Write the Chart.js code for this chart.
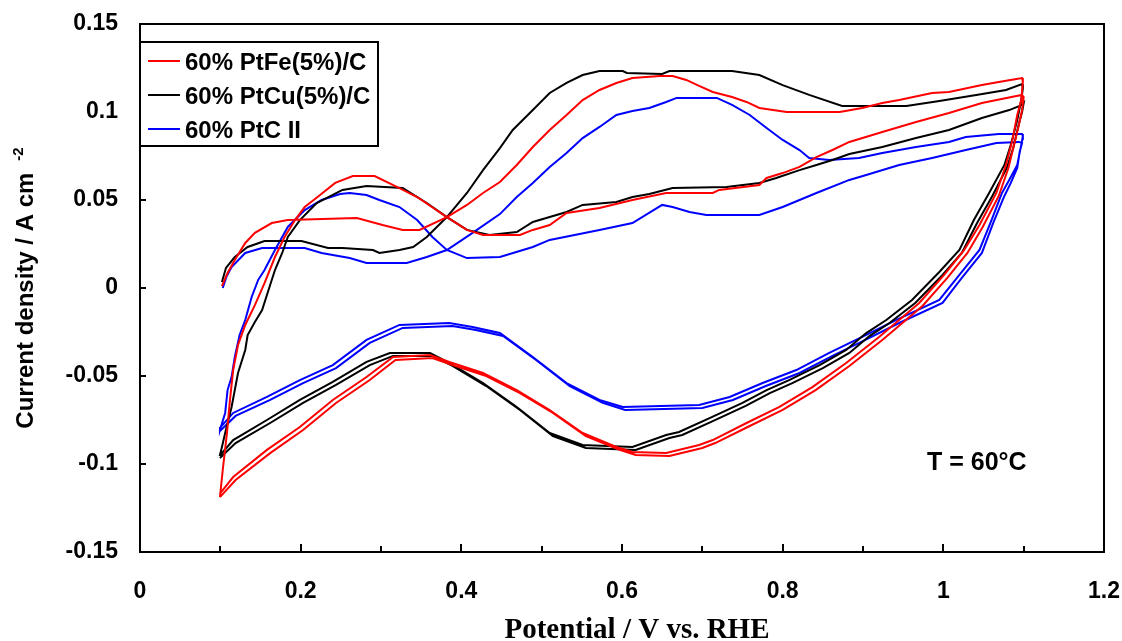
<!DOCTYPE html>
<html>
<head>
<meta charset="utf-8">
<script src="https://cdn.jsdelivr.net/npm/chart.js@4.4.1/dist/chart.umd.min.js"></script>
<style>
  html, body { margin: 0; padding: 0; background: #ffffff; }
  #wrap { width: 1122px; height: 641px; }
  canvas { display: block; }
</style>
</head>
<body>
<div id="wrap"><canvas id="cv" width="1122" height="641"></canvas></div>
<script>
// ---------------- data ----------------
const seriesLabels = ['60% PtFe(5%)/C', '60% PtCu(5%)/C', '60% PtC II'];
const seriesColors = ['#ff0000', '#000000', '#0000ff'];

const xTickValues = [0, 0.2, 0.4, 0.6, 0.8, 1, 1.2];
const xTickLabels = ['0', '0.2', '0.4', '0.6', '0.8', '1', '1.2'];
const xMinorValues = [0.1, 0.3, 0.5, 0.7, 0.9, 1.1];
const yTickValues = [-0.15, -0.1, -0.05, 0, 0.05, 0.1, 0.15];
const yTickLabels = ['-0.15', '-0.1', '-0.05', '0', '0.05', '0.1', '0.15'];

// 60% PtFe(5%)/C  (potential in V vs RHE, current density in A cm-2)
const feUp1E = [0.102,0.109,0.118,0.131,0.143,0.164,0.184,0.270,0.302,0.327,0.348,0.382,0.407,0.427,0.448,0.469,0.489,0.510,0.531,0.551,0.572,0.593,0.613,0.647,0.663,0.680,0.696,0.713,0.737,0.755,0.771,0.805,0.871,0.899,0.924,0.945,0.986,1.007,1.048,1.069,1.091,1.098];
const feUp1I = [0.0011,0.0085,0.0159,0.0256,0.0313,0.0369,0.0386,0.0398,0.0358,0.0330,0.0330,0.0403,0.0472,0.0540,0.0602,0.0699,0.0801,0.0898,0.0983,0.1068,0.1125,0.1165,0.1193,0.1205,0.1205,0.1182,0.1148,0.1114,0.1085,0.1057,0.1023,0.1000,0.1000,0.1023,0.1051,0.1068,0.1108,0.1114,0.1153,0.1170,0.1188,0.1193];
const feDown1E = [1.099,1.097,1.092,1.086,1.078,1.066,1.045,1.026,1.001,0.970,0.920,0.879,0.837,0.796,0.755,0.713,0.696,0.655,0.613,0.593,0.551,0.510,0.469,0.427,0.385,0.361,0.315,0.282,0.240,0.199,0.158,0.116,0.100];
const feDown1I = [0.1170,0.1068,0.0983,0.0841,0.0699,0.0540,0.0358,0.0216,0.0074,-0.0085,-0.0278,-0.0426,-0.0563,-0.0676,-0.0767,-0.0864,-0.0892,-0.0938,-0.0932,-0.0903,-0.0824,-0.0693,-0.0580,-0.0483,-0.0420,-0.0381,-0.0392,-0.0506,-0.0636,-0.0790,-0.0920,-0.1074,-0.1165];
const feUp2E = [0.0995,0.103,0.108,0.112,0.116,0.122,0.131,0.143,0.155,0.168,0.180,0.193,0.205,0.221,0.243,0.265,0.292,0.323,0.345,0.382,0.407,0.427,0.473,0.489,0.510,0.531,0.572,0.613,0.655,0.713,0.721,0.771,0.780,0.800,0.821,0.842,0.862,0.883,0.924,0.966,1.007,1.048,1.091,1.098];
const feUp2I = [-0.1188,-0.1034,-0.0835,-0.0636,-0.0466,-0.0324,-0.0210,-0.0097,0.0028,0.0176,0.0290,0.0386,0.0460,0.0517,0.0597,0.0636,0.0636,0.0568,0.0517,0.0403,0.0330,0.0301,0.0301,0.0330,0.0358,0.0426,0.0455,0.0500,0.0540,0.0540,0.0557,0.0585,0.0625,0.0653,0.0688,0.0744,0.0784,0.0830,0.0886,0.0943,0.0994,0.1051,0.1091,0.1097];
const feDown2E = [1.100,1.098,1.094,1.088,1.081,1.069,1.049,1.030,1.005,0.974,0.924,0.883,0.841,0.800,0.759,0.716,0.700,0.659,0.617,0.597,0.555,0.514,0.473,0.431,0.389,0.364,0.318,0.286,0.244,0.203,0.162,0.119,0.0995];
const feDown2I = [0.1085,0.1011,0.0926,0.0813,0.0682,0.0523,0.0347,0.0199,0.0057,-0.0102,-0.0295,-0.0443,-0.0580,-0.0693,-0.0784,-0.0881,-0.0909,-0.0955,-0.0949,-0.0920,-0.0841,-0.0710,-0.0597,-0.0500,-0.0438,-0.0398,-0.0409,-0.0523,-0.0653,-0.0807,-0.0938,-0.1091,-0.1188];

// 60% PtCu(5%)/C
const cuUp1E = [0.102,0.107,0.118,0.134,0.155,0.201,0.234,0.252,0.290,0.298,0.323,0.340,0.357,0.382,0.407,0.427,0.448,0.464,0.489,0.510,0.531,0.551,0.572,0.601,0.606,0.650,0.659,0.737,0.771,0.800,0.833,0.874,0.954,0.995,1.041,1.078,1.098];
const cuUp1I = [0.0034,0.0114,0.0176,0.0233,0.0267,0.0267,0.0227,0.0227,0.0216,0.0199,0.0216,0.0233,0.0290,0.0403,0.0540,0.0670,0.0795,0.0898,0.1011,0.1108,0.1165,0.1210,0.1233,0.1233,0.1222,0.1216,0.1233,0.1233,0.1210,0.1153,0.1097,0.1034,0.1034,0.1063,0.1097,0.1125,0.1159];
const cuDown1E = [1.099,1.097,1.092,1.084,1.076,1.057,1.038,1.020,0.995,0.961,0.929,0.904,0.879,0.846,0.808,0.780,0.750,0.709,0.671,0.655,0.613,0.551,0.510,0.469,0.427,0.385,0.361,0.311,0.282,0.240,0.199,0.158,0.116,0.100];
const cuDown1I = [0.1136,0.1068,0.0955,0.0813,0.0699,0.0540,0.0386,0.0216,0.0091,-0.0068,-0.0182,-0.0256,-0.0352,-0.0438,-0.0523,-0.0580,-0.0653,-0.0739,-0.0818,-0.0835,-0.0903,-0.0892,-0.0824,-0.0676,-0.0540,-0.0426,-0.0369,-0.0369,-0.0420,-0.0534,-0.0636,-0.0750,-0.0864,-0.0949];
const cuUp2E = [0.0995,0.102,0.106,0.114,0.122,0.131,0.134,0.143,0.152,0.162,0.168,0.177,0.184,0.199,0.220,0.252,0.282,0.327,0.357,0.382,0.407,0.435,0.469,0.489,0.510,0.531,0.551,0.593,0.613,0.634,0.663,0.730,0.771,0.792,0.821,0.842,0.862,0.883,0.924,0.966,1.007,1.048,1.082,1.098];
const cuUp2I = [-0.0949,-0.0903,-0.0824,-0.0676,-0.0483,-0.0352,-0.0267,-0.0193,-0.0125,0.0017,0.0102,0.0199,0.0290,0.0386,0.0483,0.0557,0.0580,0.0568,0.0483,0.0403,0.0330,0.0301,0.0318,0.0375,0.0403,0.0432,0.0472,0.0489,0.0517,0.0534,0.0568,0.0574,0.0597,0.0625,0.0670,0.0699,0.0727,0.0761,0.0801,0.0852,0.0898,0.0966,0.1011,0.1040];
const cuDown2E = [1.100,1.098,1.094,1.087,1.079,1.061,1.042,1.023,0.999,0.965,0.933,0.908,0.883,0.850,0.812,0.784,0.754,0.713,0.675,0.659,0.617,0.555,0.514,0.473,0.431,0.389,0.364,0.315,0.286,0.244,0.203,0.162,0.119,0.0995];
const cuDown2I = [0.1051,0.1000,0.0932,0.0795,0.0682,0.0523,0.0369,0.0199,0.0074,-0.0085,-0.0199,-0.0273,-0.0369,-0.0455,-0.0540,-0.0597,-0.0670,-0.0756,-0.0835,-0.0852,-0.0920,-0.0909,-0.0841,-0.0693,-0.0557,-0.0443,-0.0386,-0.0386,-0.0438,-0.0551,-0.0653,-0.0767,-0.0881,-0.0966];

// 60% PtC II
const cUp1E = [0.103,0.108,0.114,0.131,0.152,0.205,0.226,0.261,0.282,0.332,0.357,0.382,0.414,0.448,0.469,0.489,0.510,0.531,0.551,0.572,0.593,0.613,0.634,0.655,0.668,0.718,0.737,0.759,0.780,0.800,0.821,0.833,0.858,0.895,0.924,0.966,1.007,1.028,1.069,1.098];
const cUp1I = [0.0000,0.0068,0.0119,0.0199,0.0227,0.0227,0.0199,0.0170,0.0142,0.0142,0.0176,0.0216,0.0313,0.0420,0.0517,0.0597,0.0688,0.0767,0.0852,0.0915,0.0983,0.1006,0.1023,0.1057,0.1080,0.1080,0.1040,0.0983,0.0909,0.0841,0.0784,0.0739,0.0727,0.0739,0.0767,0.0801,0.0830,0.0858,0.0875,0.0875];
const cDown1E = [1.099,1.097,1.092,1.082,1.073,1.060,1.045,1.020,0.995,0.941,0.899,0.858,0.817,0.775,0.734,0.696,0.601,0.572,0.531,0.489,0.448,0.414,0.385,0.323,0.282,0.240,0.199,0.158,0.116,0.0995];
const cDown1I = [0.0864,0.0813,0.0699,0.0614,0.0540,0.0386,0.0216,0.0074,-0.0068,-0.0182,-0.0278,-0.0369,-0.0466,-0.0540,-0.0619,-0.0665,-0.0676,-0.0636,-0.0540,-0.0392,-0.0256,-0.0222,-0.0199,-0.0210,-0.0295,-0.0438,-0.0523,-0.0619,-0.0710,-0.0795];
const cUp2E = [0.0995,0.106,0.109,0.114,0.118,0.124,0.131,0.139,0.147,0.155,0.168,0.184,0.205,0.226,0.249,0.261,0.282,0.298,0.323,0.345,0.364,0.382,0.407,0.448,0.489,0.510,0.572,0.613,0.650,0.663,0.684,0.705,0.771,0.800,0.842,0.883,0.904,0.945,0.986,1.028,1.066,1.094];
const cUp2I = [-0.0807,-0.0710,-0.0580,-0.0506,-0.0392,-0.0267,-0.0182,-0.0051,0.0045,0.0102,0.0216,0.0347,0.0443,0.0500,0.0534,0.0540,0.0528,0.0500,0.0460,0.0386,0.0290,0.0216,0.0170,0.0176,0.0233,0.0273,0.0330,0.0369,0.0472,0.0460,0.0432,0.0415,0.0415,0.0460,0.0540,0.0614,0.0642,0.0699,0.0739,0.0784,0.0824,0.0830];
const cDown2E = [1.098,1.095,1.092,1.084,1.076,1.062,1.048,1.023,0.999,0.945,0.903,0.862,0.821,0.779,0.738,0.700,0.604,0.576,0.535,0.493,0.452,0.418,0.389,0.327,0.286,0.244,0.203,0.162,0.119,0.0995];
const cDown2I = [0.0824,0.0773,0.0682,0.0597,0.0523,0.0369,0.0199,0.0057,-0.0085,-0.0199,-0.0295,-0.0386,-0.0483,-0.0557,-0.0636,-0.0682,-0.0693,-0.0653,-0.0557,-0.0409,-0.0273,-0.0239,-0.0216,-0.0227,-0.0312,-0.0455,-0.0540,-0.0636,-0.0727,-0.0812];

const annotationText = 'T = 60°C';
const xTitle = 'Potential / V vs. RHE';
const yTitle = 'Current density / A cm';
const yTitleSup = '-2';

// ---------------- build ----------------
function loop(pairs) {
  const pts = [];
  pairs.forEach(([e, i]) => { for (let k = 0; k < e.length; k++) pts.push({x: e[k], y: i[k]}); });
  return pts;
}
const loops = [
  loop([[feUp1E, feUp1I], [feDown1E, feDown1I], [feUp2E, feUp2I], [feDown2E, feDown2I]]),
  loop([[cuUp1E, cuUp1I], [cuDown1E, cuDown1I], [cuUp2E, cuUp2I], [cuDown2E, cuDown2I]]),
  loop([[cUp1E, cUp1I], [cDown1E, cDown1I], [cUp2E, cUp2I], [cDown2E, cDown2I]])
];

const SANS = '"Liberation Sans", Arial, sans-serif';
const SERIF = '"Liberation Serif", "Times New Roman", serif';

const decor = {
  id: 'decor',
  afterDraw(chart) {
    const {ctx, chartArea: a, scales: {x, y}} = chart;
    ctx.save();
    ctx.strokeStyle = '#000';
    ctx.lineWidth = 2;
    ctx.strokeRect(a.left, a.top, a.right - a.left, a.bottom - a.top);
    ctx.beginPath();
    yTickValues.forEach(v => {
      const py = Math.round(y.getPixelForValue(v));
      ctx.moveTo(a.left, py); ctx.lineTo(a.left + 6, py);
    });
    xTickValues.forEach(v => {
      const px = Math.round(x.getPixelForValue(v));
      ctx.moveTo(px, a.bottom); ctx.lineTo(px, a.bottom - 8);
    });
    xMinorValues.forEach(v => {
      const px = Math.round(x.getPixelForValue(v));
      ctx.moveTo(px, a.bottom); ctx.lineTo(px, a.bottom - 6);
    });
    ctx.stroke();

    // legend box
    const lx = a.left, ly = 42, lw = 238, lh = 104;
    ctx.fillStyle = '#fff';
    ctx.fillRect(lx, ly, lw, lh);
    ctx.lineWidth = 2;
    ctx.strokeRect(lx, ly, lw, lh);
    const rows = [62, 96, 130];
    chart.data.datasets.forEach((ds, i) => {
      ctx.strokeStyle = ds.borderColor;
      ctx.lineWidth = 2;
      ctx.beginPath();
      ctx.moveTo(lx + 8, rows[i] - 1); ctx.lineTo(lx + 40, rows[i] - 1);
      ctx.stroke();
      ctx.fillStyle = '#000';
      ctx.font = 'bold 24px ' + SANS;
      ctx.textAlign = 'left';
      ctx.textBaseline = 'middle';
      ctx.fillText(ds.label, lx + 45, rows[i] + 1);
    });

    // annotation
    ctx.fillStyle = '#000';
    ctx.font = 'bold 25px ' + SANS;
    ctx.textAlign = 'left';
    ctx.textBaseline = 'alphabetic';
    ctx.fillText(annotationText, 927, 470);

    // x title
    ctx.font = 'bold 29px ' + SERIF;
    ctx.textAlign = 'center';
    ctx.fillText(xTitle, 637, 638);

    // y title with superscript
    ctx.font = 'bold 24px ' + SANS;
    const w = ctx.measureText(yTitle).width;
    ctx.font = 'bold 15px ' + SANS;
    const ws = ctx.measureText(yTitleSup).width;
    const gap = 12;
    const total = w + gap + ws;
    ctx.translate(33, (a.top + a.bottom) / 2);
    ctx.rotate(-Math.PI / 2);
    ctx.textAlign = 'left';
    ctx.font = 'bold 24px ' + SANS;
    ctx.fillText(yTitle, -total / 2, 0);
    ctx.font = 'bold 15px ' + SANS;
    ctx.fillText(yTitleSup, -total / 2 + w + gap, -10);
    ctx.restore();
  }
};

new Chart(document.getElementById('cv'), {
  type: 'scatter',
  data: {
    datasets: loops.map((pts, i) => ({
      label: seriesLabels[i],
      data: pts,
      showLine: true,
      borderColor: seriesColors[i],
      backgroundColor: seriesColors[i],
      borderWidth: 2,
      pointRadius: 0,
      pointHoverRadius: 0,
      tension: 0,
      fill: false
    }))
  },
  options: {
    responsive: false,
    devicePixelRatio: 1,
    animation: false,
    events: [],
    layout: { padding: { top: 24, right: 18, left: 0, bottom: 0 } },
    plugins: { legend: { display: false }, tooltip: { enabled: false }, title: { display: false } },
    scales: {
      x: {
        type: 'linear', position: 'bottom', min: 0, max: 1.2,
        grid: { display: false, drawTicks: false },
        border: { display: false },
        afterBuildTicks: s => { s.ticks = xTickValues.map(v => ({ value: v })); },
        afterFit: s => { s.height = 89; s.paddingLeft = 0; s.paddingRight = 0; s.paddingTop = 0; s.paddingBottom = 0; },
        ticks: {
          padding: 26, color: '#000', maxRotation: 0, autoSkip: false,
          font: { family: SANS, weight: 'bold', size: 23 },
          callback: (v, idx) => xTickLabels[idx]
        }
      },
      y: {
        type: 'linear', position: 'left', min: -0.15, max: 0.15,
        grid: { display: false, drawTicks: false },
        border: { display: false },
        afterBuildTicks: s => { s.ticks = yTickValues.map(v => ({ value: v })); },
        afterFit: s => { s.width = 140; s.paddingLeft = 0; s.paddingRight = 0; s.paddingTop = 0; s.paddingBottom = 0; },
        ticks: {
          padding: 22, color: '#000', autoSkip: false,
          font: { family: SANS, weight: 'bold', size: 23 },
          callback: (v, idx) => yTickLabels[idx]
        }
      }
    }
  },
  plugins: [decor]
});
</script>
</body>
</html>
